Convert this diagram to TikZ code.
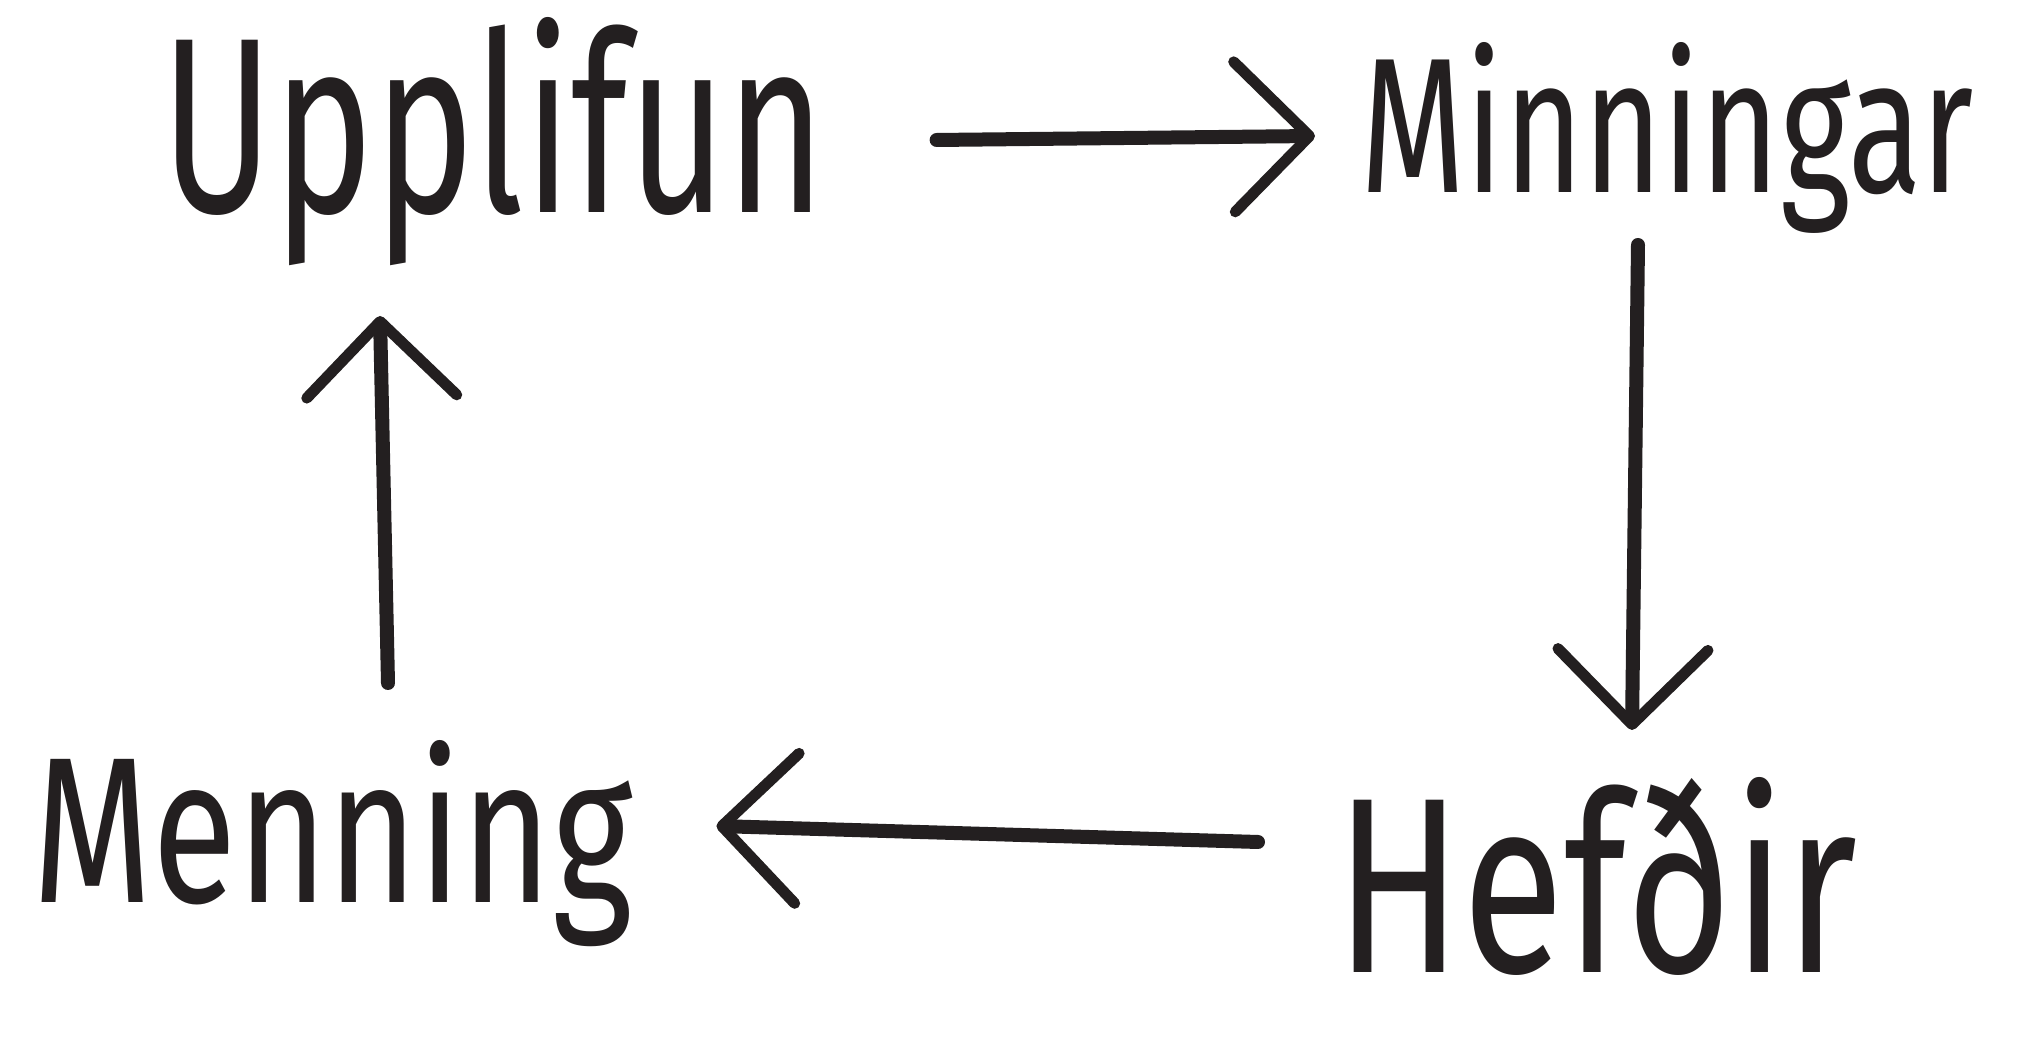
\documentclass[tikz,border=0pt]{standalone}
\usepackage{fontspec}
\setmainfont{Fira Sans}
\usetikzlibrary{arrows.meta,calc}
\definecolor{ink}{HTML}{231F20}
\tikzset{
  word/.style={inner sep=0pt, text=ink},
  arr/.style={draw=ink, line width=0.14cm, line cap=round, line join=round,
    -{Straight Barb[length=0.75cm, width=1.5cm, line width=0.11cm, round]}}
}
\begin{document}
\begin{tikzpicture}
\useasboundingbox[fill=white] (0,0) rectangle (20.22,-10.52);
\node[word, anchor=base west] (U) at (1.61,-2.13) {\resizebox{6.64cm}{1.95cm}{Upplifun}};
\node[word, anchor=base west] (M) at (13.60,-1.93) {\resizebox{6.13cm}{1.5cm}{Minningar}};
\node[word, anchor=base west] (H) at (13.35,-9.73) {\resizebox{5.22cm}{1.95cm}{Hefðir}};
\node[word, anchor=base west] (N) at (0.32,-9.03) {\resizebox{6.0cm}{1.62cm}{Menning}};
\draw[arr] ($(U.base east)+(1.10,0.73)$) -- ($(M.base west)+(-0.45,0.57)$);
\draw[arr] ($(M.base west)+(2.78,-0.52)$) -- ($(H.base west)+(2.97,2.43)$);
\draw[arr] ($(H.base west)+(-0.77,1.31)$) -- ($(N.base east)+(0.83,0.77)$);
\draw[arr] ($(N.base west)+(3.56,2.20)$) -- ($(U.base west)+(2.19,-1.03)$);
\end{tikzpicture}
\end{document}
